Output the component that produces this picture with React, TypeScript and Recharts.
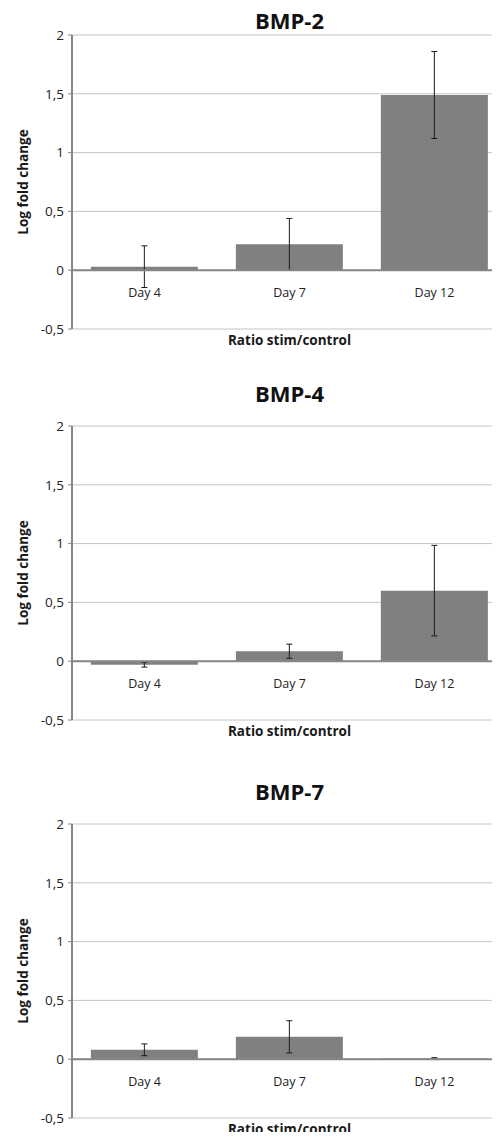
import React from 'react';
import {
  BarChart,
  Bar,
  XAxis,
  YAxis,
  CartesianGrid,
  ErrorBar,
  ReferenceLine,
  ReferenceDot
} from 'recharts';

const categories = ['Day 4', 'Day 7', 'Day 12'];

// log fold change (ratio stim/control) with error bar half-widths
const bmp2Values = [0.03, 0.22, 1.49];
const bmp2Errors = [0.177, 0.22, 0.37];
const bmp4Values = [-0.03, 0.085, 0.6];
const bmp4Errors = [0.02, 0.06, 0.385];
const bmp7Values = [0.08, 0.19, 0.005];
const bmp7Errors = [0.05, 0.137, 0.008];

const yTicks = [-0.5, 0, 0.5, 1, 1.5, 2];

const FONT = '"Open Sans", sans-serif';
const PLOT_H = 294;
const Y_AXIS_W = 72;
const PLOT_W = 435;
const MARGIN_TOP = 10;
const X_AXIS_H = 30;

const panels = [
  { title: 'BMP-2', values: bmp2Values, errors: bmp2Errors, plotTop: 35, titleTop: 5 },
  { title: 'BMP-4', values: bmp4Values, errors: bmp4Errors, plotTop: 426, titleTop: 378 },
  { title: 'BMP-7', values: bmp7Values, errors: bmp7Errors, plotTop: 824, titleTop: 776 }
];

const fmt = (v: number) => String(v).replace('.', ',');

interface PanelProps {
  title: string;
  values: number[];
  errors: number[];
  plotTop: number;
  titleTop: number;
}

const Panel: React.FC<PanelProps> = ({ title, values, errors, plotTop, titleTop }) => {
  const data = categories.map((day, i) => ({ day, value: values[i], err: errors[i] }));

  return (
    <>
      <div
        style={{
          position: 'absolute',
          top: titleTop,
          left: Y_AXIS_W,
          width: PLOT_W,
          textAlign: 'center',
          fontFamily: FONT,
          fontWeight: 700,
          fontSize: 22,
          color: '#111'
        }}
      >
        {title}
      </div>
      <div style={{ position: 'absolute', top: plotTop - MARGIN_TOP, left: 0 }}>
        <BarChart
          width={Y_AXIS_W + PLOT_W}
          height={MARGIN_TOP + PLOT_H + X_AXIS_H}
          data={data}
          margin={{ top: MARGIN_TOP, right: 0, bottom: 0, left: 0 }}
          barCategoryGap="13%"
        >
          <CartesianGrid vertical={false} stroke="#c4c4c4" />
          <XAxis
            dataKey="day"
            axisLine={false}
            tickLine={false}
            tick={false}
            height={X_AXIS_H}
            label={{
              value: 'Ratio stim/control',
              position: 'insideTop',
              offset: 6,
              fontFamily: FONT,
              fontWeight: 700,
              fontSize: 13.5,
              fill: '#1a1a1a'
            }}
          />
          <YAxis
            width={Y_AXIS_W}
            domain={[-0.5, 2]}
            ticks={yTicks}
            tickFormatter={fmt}
            axisLine={{ stroke: '#868686', strokeWidth: 2 }}
            tickLine={{ stroke: '#868686' }}
            tickSize={4}
            tickMargin={4}
            tick={{ fontSize: 13.5, fill: '#222', fontFamily: FONT }}
            label={{
              value: 'Log fold change',
              angle: -90,
              position: 'center',
              dx: -13,
              fontFamily: FONT,
              fontWeight: 700,
              fontSize: 13.5,
              fill: '#1a1a1a'
            }}
          />
          <Bar dataKey="value" fill="#808080" isAnimationActive={false}>
            <ErrorBar dataKey="err" width={3} stroke="#1a1a1a" strokeWidth={1} />
          </Bar>
          <ReferenceLine y={0} stroke="#868686" strokeWidth={2} />
          {categories.map((c) => (
            <ReferenceDot
              key={c}
              x={c}
              y={0}
              r={0}
              fill="none"
              stroke="none"
              label={{
                value: c,
                position: 'bottom',
                offset: 18,
                fontFamily: FONT,
                fontSize: 12.5,
                fill: '#222'
              }}
            />
          ))}
        </BarChart>
      </div>
    </>
  );
};

export default function App() {
  return (
    <div
      style={{
        position: 'relative',
        width: 500,
        height: 1140,
        margin: -8,
        overflow: 'hidden',
        background: '#fff'
      }}
    >
      {panels.map((p) => (
        <Panel key={p.title} {...p} />
      ))}
    </div>
  );
}
